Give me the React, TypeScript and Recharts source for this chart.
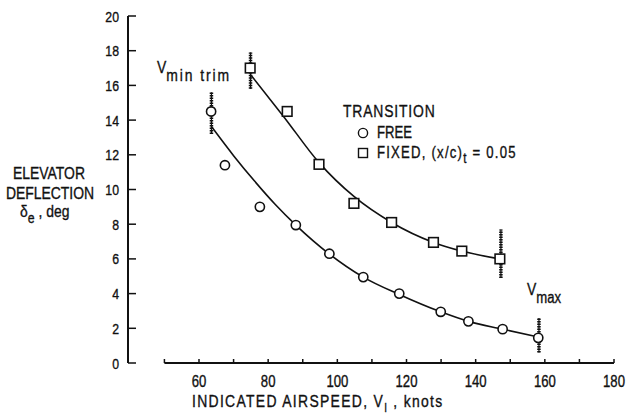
import { ComposedChart, Line, Scatter, XAxis, YAxis, ReferenceLine, Legend } from "recharts"

const FONT = '"Liberation Sans", Arial, sans-serif'
const INK = "#111"
const SQ = 0.82 // horizontal squeeze, the original lettering is condensed

const xTicks = [50, 60, 70, 80, 90, 100, 110, 120, 130, 140, 150, 160, 170, 180]
const xLabels = [60, 80, 100, 120, 140, 160, 180]
const yTicks = [0, 2, 4, 6, 8, 10, 12, 14, 16, 18, 20]

// measured points, transition free (circles)
const freePoints = [
  { v: 63.5, d: 14.5 },
  { v: 67.5, d: 11.4 },
  { v: 77.6, d: 9.0 },
  { v: 88, d: 7.95 },
  { v: 97.7, d: 6.3 },
  { v: 107.5, d: 4.95 },
  { v: 117.9, d: 4.0 },
  { v: 129.9, d: 2.95 },
  { v: 137.9, d: 2.4 },
  { v: 147.8, d: 1.95 },
  { v: 158.1, d: 1.45 },
]

// measured points, transition fixed (squares)
const fixedPoints = [
  { v: 74.8, d: 17.0 },
  { v: 85.5, d: 14.5 },
  { v: 94.7, d: 11.45 },
  { v: 104.8, d: 9.2 },
  { v: 115.7, d: 8.1 },
  { v: 127.8, d: 6.95 },
  { v: 136, d: 6.45 },
  { v: 147, d: 6.0 },
]

// faired curves
const freeFairing = [
  { v: 63.7, d: 13.6 },
  { v: 70, d: 11.95 },
  { v: 76, d: 10.5 },
  { v: 82, d: 9.15 },
  { v: 88, d: 7.95 },
  { v: 97.7, d: 6.28 },
  { v: 107.5, d: 4.95 },
  { v: 117.9, d: 3.95 },
  { v: 129.9, d: 2.95 },
  { v: 137.9, d: 2.4 },
  { v: 147.8, d: 1.95 },
  { v: 158.1, d: 1.5 },
]

const fixedFairing = [
  { v: 75, d: 16.6 },
  { v: 84.5, d: 14.2 },
  { v: 94.7, d: 11.55 },
  { v: 104.8, d: 9.6 },
  { v: 115.7, d: 8.1 },
  { v: 127.8, d: 6.95 },
  { v: 136, d: 6.45 },
  { v: 147, d: 6.0 },
]

// hatched speed-limit marks
const limitMarks = [
  { v: 63.6, lo: 13.2, hi: 15.6 },
  { v: 74.9, lo: 15.8, hi: 17.9 },
  { v: 147.3, lo: 4.9, hi: 7.7 },
  { v: 158.3, lo: 0.6, hi: 2.6 },
]

const Txt = ({ x, y, size, anchor = "start", ls = 0, children }: any) => (
  <g transform={`translate(${x},${y}) scale(${SQ},1)`}>
    <text
      x={0}
      y={0}
      textAnchor={anchor}
      fontSize={size}
      fontFamily={FONT}
      fill={INK}
      stroke={INK}
      strokeWidth={0.35}
      letterSpacing={ls}
    >
      {children}
    </text>
  </g>
)

const XTick = (props: any) => {
  const { x, y, payload } = props
  const show = xLabels.includes(payload.value)
  return (
    <g>
      <line x1={x} x2={x} y1={y} y2={y - 4} stroke={INK} strokeWidth={1.5} />
      {show && (
        <Txt x={x} y={y + 24} size={16} anchor="middle">
          {payload.value}
        </Txt>
      )}
    </g>
  )
}

const YTick = (props: any) => {
  const { x, y, payload } = props
  return (
    <g>
      <line x1={x} x2={x + 8} y1={y} y2={y} stroke={INK} strokeWidth={1.5} />
      <Txt x={x - 9} y={y + 5.5} size={15} anchor="end">
        {payload.value}
      </Txt>
    </g>
  )
}

const OpenCircle = (props: any) => (
  <circle cx={props.cx} cy={props.cy} r={4.6} fill="#fff" stroke={INK} strokeWidth={1.6} />
)

const OpenSquare = (props: any) => (
  <rect x={props.cx - 4.8} y={props.cy - 4.8} width={9.6} height={9.6} fill="#fff" stroke={INK} strokeWidth={1.6} />
)

const LegendBox = () => (
  <svg width={200} height={70} style={{ overflow: "visible" }}>
    <Txt x={3} y={17} size={17} ls={1}>TRANSITION</Txt>
    <circle cx={23} cy={33} r={4.6} fill="#fff" stroke={INK} strokeWidth={1.4} />
    <Txt x={37} y={38} size={16}>FREE</Txt>
    <rect x={18.5} y={48.5} width={9} height={9} fill="#fff" stroke={INK} strokeWidth={1.4} />
    <Txt x={37} y={58} size={16} ls={1.5}>
      FIXED,  (x/c)
      <tspan dy={5} fontSize={14}>t</tspan>
      <tspan dy={-5}> = 0.05</tspan>
    </Txt>
  </svg>
)

export default function App() {
  return (
    <div style={{ position: "absolute", left: 0, top: 0, width: 628, height: 414, background: "#fff" }}>
      <ComposedChart width={628} height={414} margin={{ top: 16, right: 14, left: 0, bottom: 0 }}>
        <XAxis
          type="number"
          dataKey="v"
          domain={[39.47, 180]}
          ticks={xTicks}
          interval={0}
          allowDataOverflow
          height={51}
          axisLine={false}
          tickLine={false}
          tickSize={0}
          tickMargin={0}
          tick={<XTick />}
        />
        <YAxis
          type="number"
          dataKey="d"
          domain={[0, 20]}
          ticks={yTicks}
          interval={0}
          width={128}
          axisLine={{ stroke: INK, strokeWidth: 2 }}
          tickLine={false}
          tickSize={0}
          tickMargin={0}
          tick={<YTick />}
        />
        <ReferenceLine
          segment={[{ x: 50, y: 0 }, { x: 180, y: 0 }]}
          stroke={INK}
          strokeWidth={2}
        />
        {limitMarks.map((m, i) => (
          <ReferenceLine
            key={"h" + i}
            segment={[{ x: m.v, y: m.lo }, { x: m.v, y: m.hi }]}
            stroke={INK}
            strokeWidth={3.5}
            strokeDasharray="1.5 1"
          />
        ))}
        {limitMarks.map((m, i) => (
          <ReferenceLine
            key={"c" + i}
            segment={[{ x: m.v, y: m.lo }, { x: m.v, y: m.hi }]}
            stroke={INK}
            strokeWidth={1.2}
          />
        ))}
        <Line
          data={freeFairing}
          dataKey="d"
          type="monotone"
          stroke={INK}
          strokeWidth={1.6}
          dot={false}
          isAnimationActive={false}
          legendType="none"
        />
        <Line
          data={fixedFairing}
          dataKey="d"
          type="monotone"
          stroke={INK}
          strokeWidth={1.6}
          dot={false}
          isAnimationActive={false}
          legendType="none"
        />
        <Scatter data={freePoints} dataKey="d" shape={<OpenCircle />} isAnimationActive={false} />
        <Scatter data={fixedPoints} dataKey="d" shape={<OpenSquare />} isAnimationActive={false} />
        <Legend
          verticalAlign="middle"
          content={<LegendBox />}
          wrapperStyle={{ left: 340, top: 100, width: 200, height: 70 }}
        />
      </ComposedChart>
      <svg
        width={628}
        height={414}
        style={{ position: "absolute", left: 0, top: 0, pointerEvents: "none" }}
      >
        <Txt x={49} y={179} size={17} anchor="middle">ELEVATOR</Txt>
        <Txt x={50} y={199} size={17} anchor="middle">DEFLECTION</Txt>
        <Txt x={20} y={217} size={17}>
          δ<tspan dy={6} fontSize={15}>e</tspan>
          <tspan dy={-6}>  ,  deg</tspan>
        </Txt>
        <Txt x={157} y={73} size={17}>
          V<tspan dy={8} fontSize={17} letterSpacing={2.3}>min trim</tspan>
        </Txt>
        <Txt x={527} y={295} size={17}>
          V<tspan dy={8} fontSize={16}>max</tspan>
        </Txt>
        <Txt x={192} y={407} size={17} ls={1.6}>
          INDICATED AIRSPEED,  V
          <tspan dy={5} fontSize={12}>I</tspan>
          <tspan dy={-5}> ,   knots</tspan>
        </Txt>
      </svg>
    </div>
  )
}
